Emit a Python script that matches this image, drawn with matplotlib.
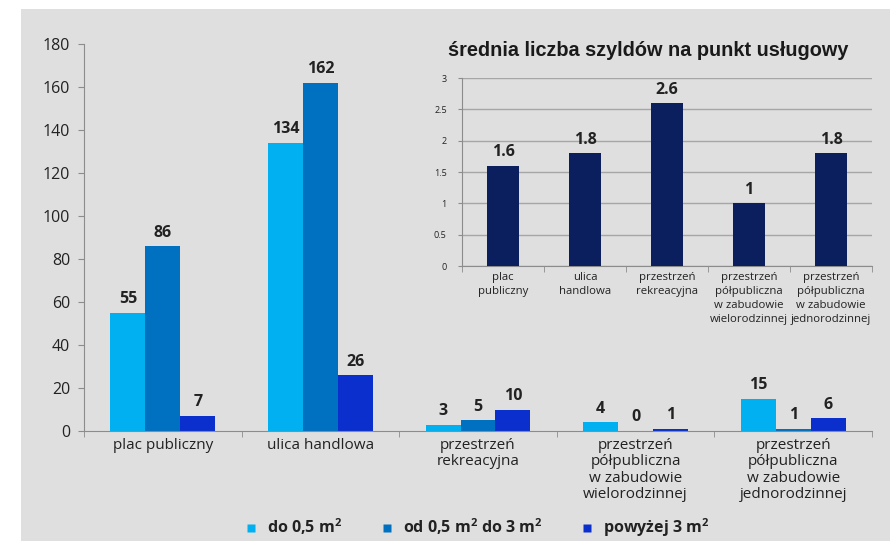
import matplotlib
matplotlib.use("Agg")
import matplotlib.pyplot as plt
import numpy as np
from matplotlib.patches import Rectangle
from matplotlib.lines import Line2D

plt.rcParams['font.family'] = ['Open Sans', 'DejaVu Sans']
plt.rcParams['mathtext.default'] = 'regular'

# ---- data ----
categories = ["plac publiczny", "ulica handlowa", "przestrzeń\nrekreacyjna",
              "przestrzeń\npółpubliczna\nw zabudowie\nwielorodzinnej",
              "przestrzeń\npółpubliczna\nw zabudowie\njednorodzinnej"]
series_names = ["do 0,5 m$^2$", "od 0,5 m$^2$ do 3 m$^2$", "powyżej 3 m$^2$"]
s_small = [55, 134, 3, 4, 15]
s_mid = [86, 162, 5, 0, 1]
s_large = [7, 26, 10, 1, 6]
main_yticks = [0, 20, 40, 60, 80, 100, 120, 140, 160, 180]

inset_title = "średnia liczba szyldów na punkt usługowy"
inset_categories = ["plac\npubliczny", "ulica\nhandlowa", "przestrzeń\nrekreacyjna",
                    "przestrzeń\npółpubliczna\nw zabudowie\nwielorodzinnej",
                    "przestrzeń\npółpubliczna\nw zabudowie\njednorodzinnej"]
inset_values = [1.6, 1.8, 2.6, 1.0, 1.8]
inset_labels = ["1.6", "1.8", "2.6", "1", "1.8"]
inset_yticks = [0, 0.5, 1, 1.5, 2, 2.5, 3]
inset_yticklabels = ["0", "0.5", "1", "1.5", "2", "2.5", "3"]

colors = ["#00b0f0", "#0070c0", "#0a2fcc"]
navy = "#0b1f5e"
bg = "#dfdfdf"
spine_c = "#8c8c8c"
text_c = "#222222"

W, H = 890, 541
fig = plt.figure(figsize=(W / 100, H / 100), dpi=100)
fig.patch.set_facecolor("white")
fig.patches.append(Rectangle((21 / W, 0), 1 - 21 / W, 1 - 9 / H,
                             transform=fig.transFigure, facecolor=bg,
                             edgecolor="none", zorder=-10))

# ---- main axes ----
ax = fig.add_axes([84 / W, 1 - 431 / H, (872 - 84) / W, (431 - 44) / H])
ax.set_facecolor("none")
n = len(categories)
x = np.arange(n)
bw = 0.222
for i, (vals, c) in enumerate(zip([s_small, s_mid, s_large], colors)):
    pos = x + (i - 1) * bw
    ax.bar(pos, vals, width=bw, color=c, edgecolor="none", label=series_names[i])
    for p, v in zip(pos, vals):
        ax.annotate(str(v), (p, v), xytext=(0, 4), textcoords="offset points",
                    ha="center", va="bottom", fontsize=11.5, fontweight="bold",
                    color=text_c)
ax.set_xlim(-0.5, n - 0.5)
ax.set_ylim(0, 180)
ax.set_yticks(main_yticks)
ax.set_yticklabels([str(t) for t in main_yticks], fontsize=11.5, color=text_c)
ax.set_xticks(x)
ax.set_xticklabels(categories, fontsize=11, color=text_c, linespacing=1.12)
ax.set_xticks(np.arange(n + 1) - 0.5, minor=True)
ax.tick_params(axis="x", which="major", length=0, pad=5)
ax.tick_params(axis="x", which="minor", length=4, color=spine_c, direction="out")
ax.tick_params(axis="y", length=4, color=spine_c, pad=6)
for s in ["top", "right"]:
    ax.spines[s].set_visible(False)
for s in ["left", "bottom"]:
    ax.spines[s].set_color(spine_c)

# ---- inset ----
ai = fig.add_axes([462 / W, 1 - 266 / H, (872 - 462) / W, (266 - 78) / H])
ai.set_facecolor("none")
ni = len(inset_values)
xi = np.arange(ni)
ai.bar(xi, inset_values, width=0.39, color=navy, edgecolor="none", zorder=3)
for p, v, lab in zip(xi, inset_values, inset_labels):
    ai.annotate(lab, (p, v), xytext=(0, 4), textcoords="offset points",
                ha="center", va="bottom", fontsize=11.5, fontweight="bold",
                color=text_c)
ai.set_xlim(-0.5, ni - 0.5)
ai.set_ylim(0, 3)
ai.set_yticks(inset_yticks)
ai.set_yticklabels(inset_yticklabels, fontsize=6.5, color=text_c)
ai.yaxis.grid(True, color="#a6a6a6", linewidth=1)
ai.set_axisbelow(True)
ai.set_xticks(xi)
ai.set_xticklabels(inset_categories, fontsize=8.2, color=text_c, linespacing=1.38)
ai.set_xticks(np.arange(ni + 1) - 0.5, minor=True)
ai.tick_params(axis="x", which="major", length=0, pad=4)
ai.tick_params(axis="x", which="minor", length=4, color=spine_c)
ai.tick_params(axis="y", length=3, color=spine_c, pad=8)
for s in ["top", "right"]:
    ai.spines[s].set_visible(False)
for s in ["left", "bottom"]:
    ai.spines[s].set_color(spine_c)
fig.text(648 / W, 1 - 50 / H, inset_title, ha="center", va="center",
         fontsize=14.3, fontweight="bold", family=["Liberation Sans", "DejaVu Sans"],
         color="#1a1a1a")

# ---- legend ----
handles = [Line2D([], [], marker="s", linestyle="none", markersize=6,
                  markerfacecolor=c, markeredgecolor="none") for c in colors]
leg = fig.legend(handles, series_names, loc="center", ncol=3,
                 bbox_to_anchor=(477 / W, 1 - 528 / H), frameon=False,
                 prop={"family": "Open Sans", "weight": "bold", "size": 11.5},
                 handlelength=0.8, handletextpad=0.6, columnspacing=2.4)
for t in leg.get_texts():
    t.set_color(text_c)

fig.savefig("out.png", dpi=100)
